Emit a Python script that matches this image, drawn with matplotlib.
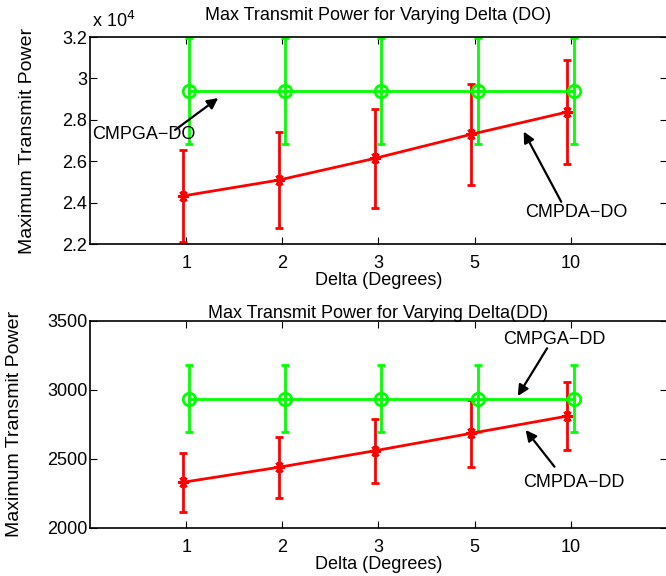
import matplotlib
matplotlib.use('Agg')
import matplotlib.pyplot as plt
from matplotlib.ticker import FuncFormatter

plt.rcParams['font.family'] = ['Liberation Sans', 'DejaVu Sans']
plt.rcParams['font.size'] = 13

deltas = ['1', '2', '3', '5', '10']

# top panel (DO)
do_ga = [29400, 29400, 29400, 29400, 29400]
do_ga_err = [2550, 2550, 2550, 2550, 2550]
do_da = [24320, 25090, 26140, 27300, 28380]
do_da_err = [2240, 2300, 2380, 2450, 2500]

# bottom panel (DD)
dd_ga = [2935, 2935, 2935, 2935, 2935]
dd_ga_err = [244, 244, 244, 244, 244]
dd_da = [2329, 2438, 2558, 2684, 2809]
dd_da_err = [213, 221, 233, 241, 244]

GREEN = (0, 1, 0)
RED = (1, 0, 0)
ast = (6, 2, 30)

fig = plt.figure(figsize=(6.66, 5.76), dpi=100)
ax1 = fig.add_axes([90/666, 1-244/576, 577/666, 207/576])
ax2 = fig.add_axes([90/666, 1-527.7/576, 577/666, 207/576])

pos = list(range(1, len(deltas) + 1))
pg = [p + 0.03 for p in pos]
pr = [p - 0.035 for p in pos]


def draw(ax, ga, ga_err, da, da_err, ypad):
    ax.errorbar(pg, ga, yerr=ga_err, color=GREEN, lw=2, marker='o', ms=9,
                mfc='none', mew=2, capsize=3, capthick=2, elinewidth=2)
    ax.errorbar(pr, da, yerr=da_err, color=RED, lw=2, marker=ast, ms=8,
                mew=2, capsize=3, capthick=2, elinewidth=2)
    ax.set_xlim(0, 6)
    ax.set_xticks(pos)
    ax.set_xticklabels(deltas)
    ax.tick_params(direction='in', top=True, right=True, length=5)
    ax.tick_params(axis='x', pad=8)
    ax.tick_params(axis='y', pad=2)
    for t in ax.yaxis.get_ticklines()[1::2]:
        t.set_color('0.5')
    for s in ax.spines.values():
        s.set_linewidth(1.2)
    ax.set_xlabel('Delta (Degrees)', labelpad=0)
    ax.set_ylabel('Maximum Transmit Power', labelpad=ypad, fontsize=14)


draw(ax1, do_ga, do_ga_err, do_da, do_da_err, 19)
ax1.set_ylim(22000, 32000)
ax1.set_yticks([22000, 24000, 26000, 28000, 30000, 32000])
ax1.yaxis.set_major_formatter(FuncFormatter(lambda v, p: '%g' % (v / 1e4)))
ax1.set_title('Max Transmit Power for Varying Delta (DO)', fontsize=13, pad=12)
ax1.text(0.003, 1.03, r'x 10$^4$', transform=ax1.transAxes, fontsize=13,
         ha='left', va='bottom')

arr = dict(arrowstyle='-|>', color='black', lw=1.6, mutation_scale=16,
           shrinkA=0, shrinkB=0)
ax1.text(0.02, 27270, 'CMPGA\u2212DO', ha='left', va='center')
ax1.annotate('', xy=(1.333, 29050), xytext=(0.885, 27510), arrowprops=arr)
ax1.text(5.06, 23500, 'CMPDA\u2212DO', ha='center', va='center')
ax1.annotate('', xy=(4.51, 27430), xytext=(4.90, 24040), arrowprops=arr)

draw(ax2, dd_ga, dd_ga_err, dd_da, dd_da_err, 17)
ax2.set_ylim(2000, 3500)
ax2.set_yticks([2000, 2500, 3000, 3500])
ax2.set_title('Max Transmit Power for Varying Delta(DD)', fontsize=13, pad=2)
ax2.text(4.83, 3367, 'CMPGA\u2212DD', ha='center', va='center')
ax2.annotate('', xy=(4.448, 2954), xytext=(4.753, 3300), arrowprops=arr)
ax2.text(5.03, 2324, 'CMPDA\u2212DD', ha='center', va='center')
ax2.annotate('', xy=(4.53, 2708), xytext=(4.83, 2442), arrowprops=arr)

fig.savefig('out.png', dpi=100)
